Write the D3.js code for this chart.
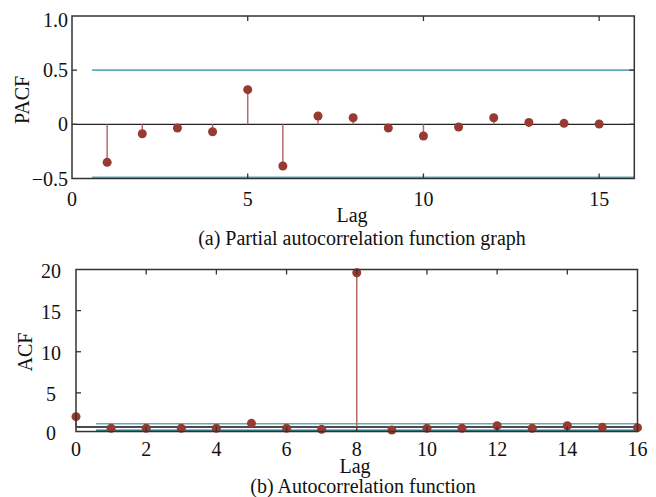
<!DOCTYPE html>
<html>
<head>
<meta charset="utf-8">
<script src="https://cdn.jsdelivr.net/npm/d3@7"></script>
<style>
  body { margin: 0; background: #fff; }
</style>
</head>
<body>
<svg id="chart" width="656" height="497" font-family="'Liberation Serif', 'Times New Roman', Times, 'DejaVu Serif', serif"></svg>
<script>
// DATA - PACF (panel a)
const pacfLags = [1, 2, 3, 4, 5, 6, 7, 8, 9, 10, 11, 12, 13, 14, 15];
const pacfValues = [-0.351, -0.087, -0.034, -0.068, 0.32, -0.385, 0.077, 0.061, -0.034, -0.108, -0.025, 0.061, 0.018, 0.009, 0.003];
const pacfConf = [0.5, -0.49];
const pacfYTicks = [-0.5, 0, 0.5, 1.0];
const pacfXTicks = [0, 5, 10, 15];

// DATA - ACF (panel b)
const acfLags = [0, 1, 2, 3, 4, 5, 6, 7, 8, 9, 10, 11, 12, 13, 14, 15, 16];
const acfValues = [2.11, 0.69, 0.69, 0.69, 0.69, 1.3, 0.69, 0.57, 19.6, 0.49, 0.69, 0.69, 1.0, 0.69, 1.0, 0.81, 0.77];
const acfBaseline = 0.85;
const acfConf = [1.25, 0.45];
const acfYTicks = [0, 5, 10, 15, 20];
const acfXTicks = [0, 2, 4, 6, 8, 10, 12, 14, 16];

// STYLE
const markerColor = "#963a32";
const stemColor = "#b56a68";
const confColor = "#5ea9ba";
const confColorDark = "#2f7f90";
const frameColor = "#333";
const textColor = "#111";
const fontSize = 20;
const confStart = 0.57;

const svg = d3.select("#chart");

// ---------------------------------------------------------------------------------
// PANEL A: PARTIAL AUTOCORRELATION

const xA = d3.scaleLinear().domain([0, 16]).range([72, 634.3]);
const yA = d3.scaleLinear().domain([-0.5, 1.0]).range([178.5, 16]);

const gA = svg.append("g");

// confidence lines
pacfConf.forEach(function(c) {
    gA.append("line")
        .attr("x1", xA(confStart)).attr("x2", xA(16))
        .attr("y1", yA(c)).attr("y2", yA(c))
        .attr("stroke", confColor).attr("stroke-width", 1.6);
});

// zero line
gA.append("line")
    .attr("x1", xA(0)).attr("x2", xA(16))
    .attr("y1", yA(0)).attr("y2", yA(0))
    .attr("stroke", "#222").attr("stroke-width", 1.3);

// stems and markers
gA.selectAll(".stem").data(pacfLags).join("line")
    .attr("x1", d => xA(d)).attr("x2", d => xA(d))
    .attr("y1", yA(0)).attr("y2", (d, i) => yA(pacfValues[i]))
    .attr("stroke", stemColor).attr("stroke-width", 1.5);
gA.selectAll(".dot").data(pacfLags).join("circle")
    .attr("cx", d => xA(d)).attr("cy", (d, i) => yA(pacfValues[i]))
    .attr("r", 4.5).attr("fill", markerColor);

// frame and inward ticks
drawFrame(gA, xA, yA, pacfXTicks, pacfYTicks);

// tick labels
gA.selectAll(".xl").data(pacfXTicks).join("text")
    .attr("x", d => xA(d)).attr("y", 199).attr("dy", "0.35em")
    .attr("text-anchor", "middle").attr("font-size", fontSize).attr("fill", textColor)
    .text(d => d);
gA.selectAll(".yl").data(pacfYTicks).join("text")
    .attr("x", 68).attr("y", d => d === 1.0 ? yA(d) + 4 : yA(d)).attr("dy", "0.35em")
    .attr("text-anchor", "end").attr("font-size", fontSize).attr("fill", textColor)
    .text(d => d === 0 ? "0" : d3.format(".1f")(d));

addText(gA, 352, 215, "Lag");
addText(gA, 22, 100, "PACF", -90);
addText(gA, 362, 238, "(a) Partial autocorrelation function graph");

// ---------------------------------------------------------------------------------
// PANEL B: AUTOCORRELATION

const xB = d3.scaleLinear().domain([0, 16]).range([76, 637.5]);
const yB = d3.scaleLinear().domain([0, 20]).range([434, 269.5]);
const yBFloor = 0.3;

const gB = svg.append("g");

gB.append("line")
    .attr("x1", xB(confStart)).attr("x2", xB(16))
    .attr("y1", yB(acfConf[0])).attr("y2", yB(acfConf[0]))
    .attr("stroke", confColor).attr("stroke-width", 1.6);
gB.append("line")
    .attr("x1", xB(confStart)).attr("x2", xB(16))
    .attr("y1", yB(acfConf[1])).attr("y2", yB(acfConf[1]))
    .attr("stroke", confColorDark).attr("stroke-width", 1.6);
gB.append("line")
    .attr("x1", xB(0)).attr("x2", xB(16))
    .attr("y1", yB(acfBaseline)).attr("y2", yB(acfBaseline))
    .attr("stroke", "#111").attr("stroke-width", 1.3);

gB.selectAll(".stem").data(acfLags).join("line")
    .attr("x1", d => xB(d)).attr("x2", d => xB(d))
    .attr("y1", yB(acfBaseline)).attr("y2", (d, i) => yB(acfValues[i]))
    .attr("stroke", stemColor).attr("stroke-width", 1.5);
gB.selectAll(".dot").data(acfLags).join("circle")
    .attr("cx", d => xB(d)).attr("cy", (d, i) => yB(acfValues[i]))
    .attr("r", 4.5).attr("fill", markerColor);

drawFrame(gB, xB, yB, acfXTicks, acfYTicks, yBFloor);

gB.selectAll(".xl").data(acfXTicks).join("text")
    .attr("x", d => xB(d)).attr("y", 449).attr("dy", "0.35em")
    .attr("text-anchor", "middle").attr("font-size", fontSize).attr("fill", textColor)
    .text(d => d);
gB.selectAll(".yl").data(acfYTicks).join("text")
    .attr("x", 51).attr("y", d => yB(Math.max(d, yBFloor)) + 1).attr("dy", "0.35em")
    .attr("text-anchor", "middle").attr("font-size", fontSize).attr("fill", textColor)
    .text(d => d);

addText(gB, 355, 466, "Lag");
addText(gB, 25, 352, "ACF", -90);
addText(gB, 363, 486, "(b) Autocorrelation function");

// ---------------------------------------------------------------------------------
function addText(g, x, y, str, rot) {
    g.append("text")
        .attr("transform", `translate(${x},${y})` + (rot ? ` rotate(${rot})` : ""))
        .attr("dy", "0.35em")
        .attr("text-anchor", "middle")
        .attr("font-size", fontSize)
        .attr("fill", textColor)
        .text(str);
}

// frame with mirrored inward ticks
function drawFrame(g, x, y, xTicks, yTicks, floor) {
    const [x0, x1] = x.range();
    const y0 = floor === undefined ? y.range()[0] : y(floor);
    const y1 = y.range()[1];
    const tl = 5;

    xTicks.filter(d => d > x.domain()[0] && d < x.domain()[1]).forEach(function(d) {
        g.append("line").attr("x1", x(d)).attr("x2", x(d)).attr("y1", y1).attr("y2", y1 + tl)
            .attr("stroke", frameColor).attr("stroke-width", 1.3);
        g.append("line").attr("x1", x(d)).attr("x2", x(d)).attr("y1", y0).attr("y2", y0 - tl)
            .attr("stroke", frameColor).attr("stroke-width", 1.3);
    });
    yTicks.filter(d => y(d) > y1 + 1 && y(d) < y0 - 1).forEach(function(d) {
        g.append("line").attr("x1", x0).attr("x2", x0 + tl).attr("y1", y(d)).attr("y2", y(d))
            .attr("stroke", frameColor).attr("stroke-width", 1.3);
        g.append("line").attr("x1", x1).attr("x2", x1 - tl).attr("y1", y(d)).attr("y2", y(d))
            .attr("stroke", frameColor).attr("stroke-width", 1.3);
    });

    g.append("rect")
        .attr("x", x0).attr("y", y1)
        .attr("width", x1 - x0).attr("height", y0 - y1)
        .attr("fill", "none").attr("stroke", frameColor).attr("stroke-width", 1.5);
}
</script>
</body>
</html>
